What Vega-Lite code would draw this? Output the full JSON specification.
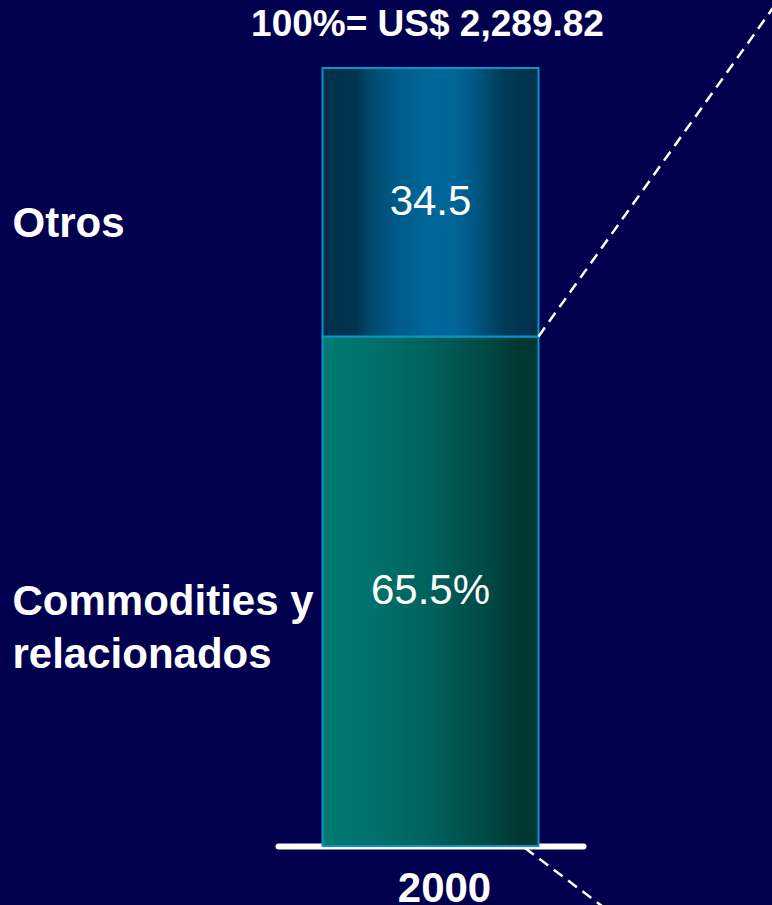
{
  "$schema": "https://vega.github.io/schema/vega-lite/v6.json",
  "width": 305,
  "height": 778,
  "autosize": {"type": "none"},
  "padding": {"left": 278, "top": 68, "right": 189, "bottom": 59},
  "background": "#00004E",
  "config": {"view": {"stroke": null}, "font": "Liberation Sans"},
  "datasets": {
    "segments": [
      {"year": "2000", "segment": "Commodities y relacionados", "name": ["Commodities y", "relacionados"], "share": 65.5, "label": "65.5%", "order": 1},
      {"year": "2000", "segment": "Otros", "name": "Otros", "share": 34.5, "label": "34.5", "order": 2}
    ],
    "total": [
      {"year": "2000", "text": "100%= US$ 2,289.82"}
    ],
    "connectors": [
      {"x": 1.0, "y": 65.5, "x2": 2.085, "y2": 107.7},
      {"x": 0.9375, "y": -0.26, "x2": 1.317, "y2": -8.2}
    ]
  },
  "layer": [
    {
      "layer": [
        {
          "data": {"name": "segments"},
          "transform": [
            {"stack": "share", "groupby": ["year"], "sort": [{"field": "order"}], "as": ["y0", "y1"]},
            {"filter": "datum.order === 1"}
          ],
          "mark": {
            "type": "bar",
            "fill": {"gradient": "linear", "x1": 0, "x2": 1, "y1": 0, "y2": 0, "stops": [
              {"offset": 0, "color": "#007A70"},
              {"offset": 0.25, "color": "#00716A"},
              {"offset": 0.5, "color": "#00615C"},
              {"offset": 0.75, "color": "#004A45"},
              {"offset": 0.92, "color": "#003632"},
              {"offset": 1, "color": "#003834"}
            ]},
            "stroke": "#0A93CB",
            "strokeWidth": 2
          },
          "encoding": {
            "x": {"field": "year", "type": "nominal", "scale": {"paddingInner": 0, "paddingOuter": 0.206},
              "axis": {"title": null, "domainColor": "white", "domainWidth": 6, "domainCap": "round", "ticks": false, "tickSize": 0, "labelAngle": 0, "labelColor": "white", "labelFontSize": 42, "labelFontWeight": "bold", "labelPadding": 22, "labelOffset": 14, "grid": false}},
            "y": {"field": "y0", "type": "quantitative", "scale": {"domain": [0, 100], "nice": false}, "axis": null},
            "y2": {"field": "y1"}
          }
        },
        {
          "data": {"name": "segments"},
          "transform": [
            {"stack": "share", "groupby": ["year"], "sort": [{"field": "order"}], "as": ["y0", "y1"]},
            {"filter": "datum.order === 2"}
          ],
          "mark": {
            "type": "bar",
            "fill": {"gradient": "linear", "x1": 0, "x2": 1, "y1": 0, "y2": 0, "stops": [
              {"offset": 0, "color": "#003048"},
              {"offset": 0.16, "color": "#003552"},
              {"offset": 0.22, "color": "#00496C"},
              {"offset": 0.36, "color": "#005C8B"},
              {"offset": 0.5, "color": "#00679B"},
              {"offset": 0.62, "color": "#006496"},
              {"offset": 0.72, "color": "#00547E"},
              {"offset": 0.84, "color": "#003A58"},
              {"offset": 1, "color": "#00304A"}
            ]},
            "stroke": "#0A93CB",
            "strokeWidth": 2
          },
          "encoding": {
            "x": {"field": "year", "type": "nominal"},
            "y": {"field": "y0", "type": "quantitative", "scale": {"domain": [0, 100], "nice": false}, "axis": null},
            "y2": {"field": "y1"}
          }
        },
        {
          "data": {"name": "segments"},
          "mark": {"type": "text", "color": "white", "fontSize": 42, "baseline": "middle", "align": "center"},
          "encoding": {
            "x": {"field": "year", "type": "nominal"},
            "y": {"field": "share", "type": "quantitative", "stack": "zero", "bandPosition": 0.5, "scale": {"domain": [0, 100], "nice": false}, "axis": null},
            "detail": {"field": "segment"},
            "order": {"field": "order"},
            "text": {"field": "label"}
          }
        },
        {
          "data": {"name": "segments"},
          "mark": {"type": "text", "color": "white", "fontSize": 42, "fontWeight": "bold", "baseline": "middle", "align": "left", "dx": -418, "dy": 22},
          "encoding": {
            "x": {"field": "year", "type": "nominal"},
            "y": {"field": "share", "type": "quantitative", "stack": "zero", "bandPosition": 0.5, "scale": {"domain": [0, 100], "nice": false}, "axis": null},
            "detail": {"field": "segment"},
            "order": {"field": "order"},
            "text": {"condition": {"test": "datum.order === 2", "field": "name"}, "value": ""}
          }
        },
        {
          "data": {"name": "segments"},
          "mark": {"type": "text", "color": "white", "fontSize": 42, "fontWeight": "bold", "baseline": "middle", "align": "left", "dx": -418, "dy": 11, "lineHeight": 53},
          "encoding": {
            "x": {"field": "year", "type": "nominal"},
            "y": {"field": "share", "type": "quantitative", "stack": "zero", "bandPosition": 0.5, "scale": {"domain": [0, 100], "nice": false}, "axis": null},
            "detail": {"field": "segment"},
            "order": {"field": "order"},
            "text": {"condition": {"test": "datum.order === 1", "field": "name"}, "value": ""}
          }
        },
        {
          "data": {"name": "total"},
          "mark": {"type": "text", "color": "white", "fontSize": 37, "fontWeight": "bold", "baseline": "alphabetic", "align": "center", "dx": -3, "dy": -32},
          "encoding": {
            "x": {"field": "year", "type": "nominal"},
            "y": {"datum": 100, "type": "quantitative", "scale": {"domain": [0, 100], "nice": false}, "axis": null},
            "text": {"field": "text"}
          }
        }
      ]
    },
    {
      "data": {"name": "connectors"},
      "mark": {"type": "rule", "color": "white", "strokeWidth": 2.5, "strokeDash": [11, 7]},
      "encoding": {
        "x": {"field": "x", "type": "quantitative", "scale": {"domain": [-0.206, 1.206], "nice": false, "zero": false}, "axis": null},
        "x2": {"field": "x2"},
        "y": {"field": "y", "type": "quantitative", "scale": {"domain": [0, 100], "nice": false}, "axis": null},
        "y2": {"field": "y2"}
      }
    }
  ],
  "resolve": {"scale": {"x": "independent"}}
}
